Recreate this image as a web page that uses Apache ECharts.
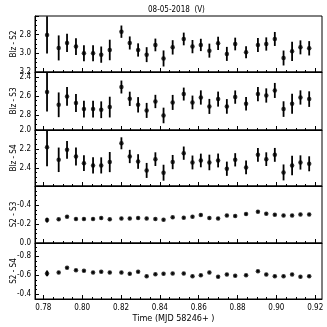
<!DOCTYPE html>
<html>
<head>
<meta charset="utf-8">
<script src="https://cdn.jsdelivr.net/npm/echarts@6/dist/echarts.min.js"></script>
<style>
  html, body { margin: 0; padding: 0; background: #fff; }
  #main { width: 327px; height: 327px; }
</style>
</head>
<body>
<div id="main"></div>
<script>
// observation times (MJD 58246+)
const times = [0.7819, 0.7879, 0.7922, 0.7968, 0.8009, 0.8056, 0.8098, 0.8142, 0.8202, 0.8245,
  0.8288, 0.8332, 0.8377, 0.8419, 0.8466, 0.8523, 0.8568, 0.8611, 0.8655, 0.8700,
  0.8745, 0.8788, 0.8844, 0.8905, 0.8948, 0.8992, 0.9037, 0.9081, 0.9124, 0.9169]

const blzS2 = [2.803, 2.942, 2.889, 2.928, 2.999, 3.0, 3.014, 2.964, 2.768, 2.889,
  2.964, 3.014, 2.91, 3.055, 2.936, 2.846, 2.928, 2.91, 2.971, 2.893,
  3.006, 2.9, 2.989, 2.91, 2.9, 2.846, 3.05, 2.979, 2.936, 2.946]
const blzS2Err = [0.2, 0.134, 0.098, 0.089, 0.086, 0.086, 0.087, 0.11, 0.066, 0.07,
  0.071, 0.08, 0.068, 0.086, 0.077, 0.068, 0.071, 0.066, 0.075, 0.071,
  0.075, 0.068, 0.064, 0.075, 0.071, 0.075, 0.08, 0.103, 0.075, 0.077]

const blzS3 = [2.561, 2.695, 2.607, 2.677, 2.74, 2.74, 2.747, 2.719, 2.508, 2.632,
  2.695, 2.754, 2.66, 2.807, 2.67, 2.582, 2.67, 2.618, 2.712, 2.635,
  2.712, 2.614, 2.684, 2.582, 2.597, 2.544, 2.74, 2.684, 2.618, 2.635]
const blzS3Err = [0.204, 0.13, 0.098, 0.095, 0.088, 0.088, 0.088, 0.109, 0.068, 0.075,
  0.081, 0.079, 0.07, 0.082, 0.079, 0.068, 0.072, 0.075, 0.079, 0.079,
  0.077, 0.07, 0.07, 0.075, 0.075, 0.079, 0.082, 0.105, 0.075, 0.082]

const blzS4 = [2.181, 2.314, 2.209, 2.279, 2.349, 2.373, 2.373, 2.338, 2.14, 2.279,
  2.332, 2.426, 2.307, 2.45, 2.338, 2.244, 2.342, 2.321, 2.342, 2.321,
  2.408, 2.314, 2.394, 2.262, 2.307, 2.262, 2.447, 2.373, 2.342, 2.356]
const blzS4Err = [0.2, 0.129, 0.094, 0.094, 0.084, 0.085, 0.085, 0.106, 0.063, 0.07,
  0.077, 0.079, 0.072, 0.084, 0.075, 0.07, 0.073, 0.072, 0.082, 0.073,
  0.075, 0.07, 0.072, 0.073, 0.072, 0.073, 0.084, 0.103, 0.075, 0.079]

const s2S3 = [-0.242, -0.249, -0.277, -0.253, -0.253, -0.253, -0.263, -0.249, -0.259, -0.259,
  -0.263, -0.259, -0.253, -0.245, -0.27, -0.266, -0.277, -0.295, -0.263, -0.259,
  -0.29, -0.284, -0.305, -0.33, -0.308, -0.298, -0.29, -0.29, -0.301, -0.301]
const s2S3Err = [0.025, 0.012, 0.012, 0.012, 0.012, 0.012, 0.012, 0.012, 0.012, 0.012,
  0.012, 0.012, 0.012, 0.012, 0.012, 0.012, 0.012, 0.012, 0.012, 0.012,
  0.012, 0.012, 0.012, 0.012, 0.012, 0.012, 0.012, 0.012, 0.012, 0.012]

const s2S4 = [-0.619, -0.63, -0.678, -0.654, -0.647, -0.63, -0.636, -0.63, -0.63, -0.615,
  -0.636, -0.591, -0.612, -0.615, -0.619, -0.619, -0.591, -0.601, -0.63, -0.584,
  -0.609, -0.594, -0.601, -0.643, -0.609, -0.591, -0.591, -0.609, -0.584, -0.591]
const s2S4Err = [0.03, 0.012, 0.012, 0.012, 0.012, 0.012, 0.012, 0.012, 0.012, 0.012,
  0.012, 0.012, 0.012, 0.012, 0.012, 0.012, 0.012, 0.012, 0.012, 0.012,
  0.012, 0.012, 0.012, 0.012, 0.012, 0.012, 0.012, 0.012, 0.012, 0.012]

// panels
const panelNames = ['Blz - S2', 'Blz - S3', 'Blz - S4', 'S2 - S3', 'S2 - S4']
const panelValues = [blzS2, blzS3, blzS4, s2S3, s2S4]
const panelErrors = [blzS2Err, blzS3Err, blzS4Err, s2S3Err, s2S4Err]
const yMins = [2.6, 2.35, 2.0, -0.6, -0.94]
const yMaxs = [3.2, 2.96, 2.59, 0.0, -0.35]
const yLabels = [[2.8, 3.0, 3.2], [2.4, 2.6, 2.8], [2.0, 2.2, 2.4], [-0.4, -0.2, 0.0], [-0.8, -0.6, -0.4]]
const xLabels = [0.78, 0.80, 0.82, 0.84, 0.86, 0.88, 0.90, 0.92]
const xMin = 0.7757
const xMax = 0.9235

const panelTops = [16, 72, 130, 186, 243]
const panelHeights = [56, 58, 56, 57, 56]

const FONT = "'DejaVu Sans Condensed', 'Liberation Sans Narrow', 'DejaVu Sans', sans-serif"

// tick positions on a regular step inside [lo, hi]
function stepTicks (lo, hi, step) {
  const out = []
  for (let k = Math.ceil(lo / step - 1e-9); k * step <= hi + 1e-9; k++) {
    out.push(Math.round(k * step * 1000) / 1000)
  }
  return out
}

const xMajor = stepTicks(xMin, xMax, 0.02)
const xMinor = stepTicks(xMin, xMax, 0.005)

const grids = []
const xAxes = []
const yAxes = []
const series = []

panelNames.forEach((name, i) => {
  grids.push({
    left: 35, right: 5, top: panelTops[i], height: panelHeights[i],
    show: true, borderColor: '#000', borderWidth: 1
  })
  const last = i === panelNames.length - 1
  // main x axis (major ticks, labels only on the bottom panel)
  xAxes.push({
    type: 'value', gridIndex: i, min: xMin, max: xMax, position: 'bottom',
    axisLine: { show: true, lineStyle: { color: '#000', width: 1 } },
    axisTick: { show: true, inside: true, length: 4, customValues: xMajor, lineStyle: { color: '#000' } },
    axisLabel: {
      show: last, customValues: xLabels, margin: 5, hideOverlap: false,
      color: '#000', fontSize: 8, fontFamily: FONT,
      formatter: v => v.toFixed(2)
    },
    splitLine: { show: false },
    name: last ? 'Time (MJD 58246+ )' : '',
    nameLocation: 'middle', nameGap: 15,
    nameTextStyle: { color: '#000', fontSize: 9, fontFamily: FONT, padding: [0, 10, 0, 0] }
  })
  // minor x ticks
  xAxes.push({
    type: 'value', gridIndex: i, min: xMin, max: xMax, position: 'bottom',
    axisLine: { show: false },
    axisTick: { show: true, inside: true, length: 2, customValues: xMinor, lineStyle: { color: '#000' } },
    axisLabel: { show: false },
    splitLine: { show: false }
  })
  // main y axis (magnitudes, inverted)
  yAxes.push({
    type: 'value', gridIndex: i, min: yMins[i], max: yMaxs[i], inverse: true, position: 'left',
    axisLine: { show: true, lineStyle: { color: '#000', width: 1 } },
    axisTick: { show: true, inside: true, length: 4, customValues: stepTicks(yMins[i], yMaxs[i], 0.2), lineStyle: { color: '#000' } },
    axisLabel: {
      customValues: yLabels[i], margin: 4,
      hideOverlap: false, showMinLabel: true, showMaxLabel: true,
      color: '#000', fontSize: 8, fontFamily: FONT,
      formatter: v => v.toFixed(1)
    },
    splitLine: { show: false },
    name: name, nameLocation: 'middle', nameGap: 17, nameRotate: 90,
    nameMoveOverlap: false,
    nameTextStyle: { color: '#000', fontSize: 8, fontFamily: FONT }
  })
  // minor y ticks
  yAxes.push({
    type: 'value', gridIndex: i, min: yMins[i], max: yMaxs[i], inverse: true, position: 'left',
    axisLine: { show: false },
    axisTick: { show: true, inside: true, length: 2, customValues: stepTicks(yMins[i], yMaxs[i], 0.05), lineStyle: { color: '#000' } },
    axisLabel: { show: false },
    splitLine: { show: false }
  })

  const vals = panelValues[i]
  const errs = panelErrors[i]
  // error bars
  series.push({
    type: 'custom',
    xAxisIndex: 2 * i, yAxisIndex: 2 * i,
    clip: true,
    silent: true,
    data: times.map((t, k) => [t, vals[k], errs[k]]),
    renderItem: (params, api) => {
      const x = api.value(0)
      const y = api.value(1)
      const e = api.value(2)
      const p1 = api.coord([x, y - e])
      const p2 = api.coord([x, y + e])
      return {
        type: 'line',
        shape: { x1: p1[0], y1: p1[1], x2: p2[0], y2: p2[1] },
        style: { stroke: '#000', lineWidth: 1.8 }
      }
    }
  })
  // points
  series.push({
    type: 'scatter',
    xAxisIndex: 2 * i, yAxisIndex: 2 * i,
    symbol: 'circle', symbolSize: 4.5,
    itemStyle: { color: '#000' },
    data: times.map((t, k) => [t, vals[k]])
  })
})

const option = {
  animation: false,
  backgroundColor: '#fff',
  title: {
    text: '08-05-2018  (V)',
    left: 143, top: 1,
    textStyle: { color: '#000', fontSize: 8, fontWeight: 'normal', fontFamily: FONT }
  },
  grid: grids,
  xAxis: xAxes,
  yAxis: yAxes,
  series: series
}

echarts.init(document.getElementById('main'), null, { renderer: 'canvas' }).setOption(option)
</script>
</body>
</html>
